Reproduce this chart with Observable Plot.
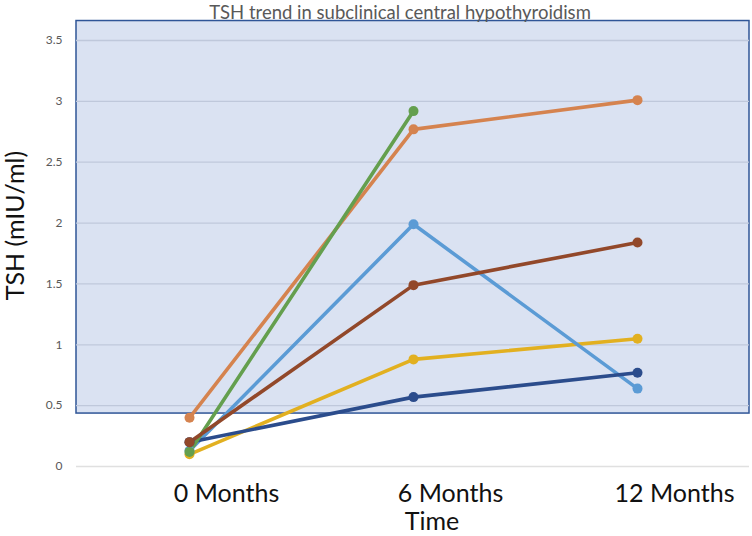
<!DOCTYPE html>
<html>
<head>
<meta charset="utf-8">
<script src="https://cdn.jsdelivr.net/npm/d3@7"></script>
<script src="https://cdn.jsdelivr.net/npm/@observablehq/plot@0.6"></script>
<style>
  html, body { margin: 0; padding: 0; background: #fff; }
  #chart { width: 752px; height: 536px; }
</style>
</head>
<body>
<div id="chart"></div>
<script>
// ---- data ----
const months = ["0 Months", "6 Months", "12 Months"];
const seriesNames = ["Patient A", "Patient B", "Patient C", "Patient D", "Patient E", "Patient F"];
const seriesColors = ["#E2B020", "#5B9BD5", "#2B4C8C", "#D5834F", "#649F4E", "#92482A"];
const patientA = [0.10, 0.88, 1.05];
const patientB = [0.13, 1.99, 0.64];
const patientC = [0.20, 0.57, 0.77];
const patientD = [0.40, 2.77, 3.01];
const patientE = [0.12, 2.92, null];
const patientF = [0.20, 1.49, 1.84];
const yTicks = [0, 0.5, 1, 1.5, 2, 2.5, 3, 3.5];
const shadedLow = 0.435;
const shadedHigh = 3.66;
const titleText = "TSH trend in subclinical central hypothyroidism";
const xTitle = "Time";
const yTitle = "TSH (mIU/ml)";

const seriesValues = [patientA, patientB, patientC, patientD, patientE, patientF];
const rows = [];
seriesNames.forEach((name, i) => {
  seriesValues[i].forEach((v, j) => {
    if (v != null) rows.push({series: name, month: months[j], tsh: v});
  });
});
const shade = [{lo: shadedLow, hi: shadedHigh}];

const font = "Lato, 'Open Sans', sans-serif";

const chart = Plot.plot({
  width: 752,
  height: 536,
  marginLeft: 76,
  marginRight: 3,
  marginTop: 40,
  marginBottom: 70,
  style: {fontFamily: font, background: "#fff", overflow: "visible"},
  x: {type: "point", domain: months, padding: 0.5, label: null},
  y: {domain: [0, 3.5], label: null},
  color: {domain: seriesNames, range: seriesColors},
  marks: [
    Plot.rect(shade, {y1: "lo", y2: "hi", fill: "#DAE2F2", stroke: "#2F5597", strokeWidth: 1.5}),
    Plot.gridY(yTicks.filter(t => t > shadedLow), {stroke: "#BFC8DB", strokeOpacity: 1, strokeWidth: 1.3}),
    Plot.gridY(yTicks.filter(t => t < shadedLow), {stroke: "#E0E0E0", strokeOpacity: 1, strokeWidth: 1.3}),
    Plot.axisY({ticks: yTicks, tickSize: 0, tickPadding: 14, fontSize: 12, fill: "#595959", label: null,
      tickFormat: d => String(d)}),
    Plot.axisX({tickSize: 0, tickPadding: 18, fontSize: 25, fill: "#111", dx: 37, label: null}),
    Plot.line(rows, {x: "month", y: "tsh", z: "series", stroke: "series", strokeWidth: 3.6,
      strokeLinejoin: "round", strokeLinecap: "round"}),
    Plot.dot(rows, {x: "month", y: "tsh", fill: "series", r: 5}),
    Plot.text([titleText], {frameAnchor: "top", text: d => d, fontSize: 18.5, fill: "#595959",
      textAnchor: "middle", lineAnchor: "middle", dx: -13, dy: -27}),
    Plot.text([xTitle], {frameAnchor: "bottom", text: d => d, fontSize: 25, fill: "#111",
      textAnchor: "middle", lineAnchor: "middle", dx: 19, dy: 55}),
    Plot.text([yTitle], {frameAnchor: "left", text: d => d, fontSize: 25, fill: "#111",
      rotate: -90, textAnchor: "middle", lineAnchor: "middle", dx: -61, dy: -28})
  ]
});
document.getElementById("chart").appendChild(chart);
</script>
</body>
</html>
